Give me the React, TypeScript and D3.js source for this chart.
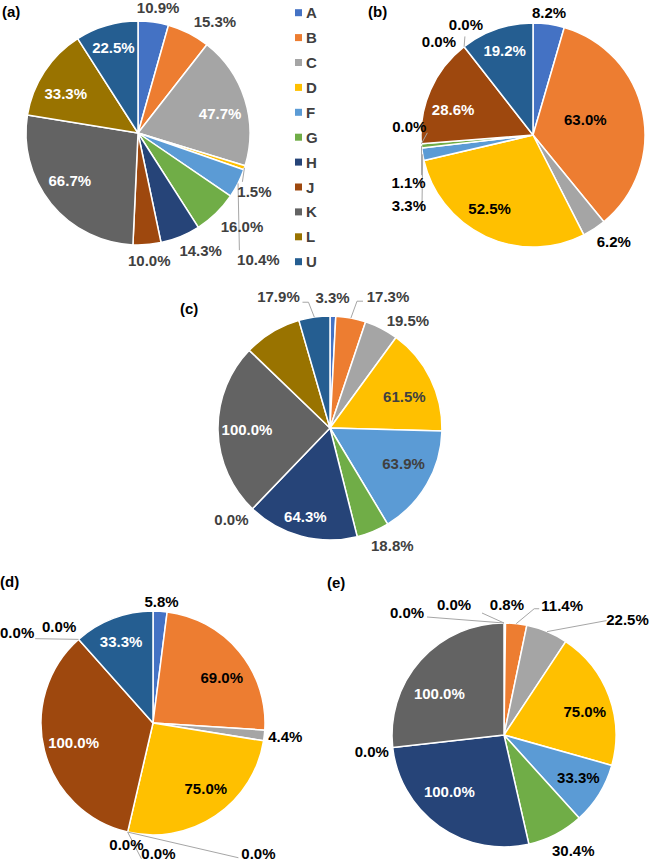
import React from "react";
import * as d3 from "d3";

// ---------- data ----------
const categories = ["A", "B", "C", "D", "F", "G", "H", "J", "K", "L", "U"];
const valuesA = [10.9, 15.3, 47.7, 1.5, 10.4, 16.0, 14.3, 10.0, 66.7, 33.3, 22.5];
const valuesB = [8.2, 63.0, 6.2, 52.5, 3.3, 1.1, 0.0, 28.6, 0.0, 0.0, 19.2];
const valuesC = [3.3, 17.3, 19.5, 61.5, 63.9, 18.8, 64.3, 0.0, 100.0, 33.3, 17.9];
const valuesD = [5.8, 69.0, 4.4, 75.0, 0.0, 0.0, 0.0, 100.0, 0.0, 0.0, 33.3];
const valuesE = [0.8, 11.4, 22.5, 75.0, 33.3, 30.4, 100.0, 0.0, 100.0, 0.0, 0.0];
const panelTitles = ["(a)", "(b)", "(c)", "(d)", "(e)"];

// ---------- style ----------
const sliceColors = [
  "#4472C4", "#ED7D31", "#A5A5A5", "#FFC000", "#5B9BD5", "#70AD47",
  "#264478", "#9E480E", "#636363", "#997300", "#255E91",
];
const whiteInside = new Set(["C", "H", "J", "K", "L", "U"]);
const FONT = "'Liberation Sans', Arial, Helvetica, sans-serif";
const FS = 15;

type Leader = { i: number; end: [number, number]; elbow?: [number, number] };
type Panel = {
  title: string;
  values: number[];
  cx: number;
  cy: number;
  r: number;
  tx: number;
  ty: number;
  modes: string; // i = inside, o = outside, - = hidden
  nudges: [number, number][];
  leaders: Leader[];
  dark: string;
};

const panels: Panel[] = [
  {
    title: panelTitles[0], values: valuesA, cx: 138, cy: 133, r: 112, tx: 2, ty: 17,
    modes: "ooioooooiii",
    nudges: [[1, -2], [14, 0], [2, 6], [-12, 20], [-4, 70], [7, 4], [10, 2], [0, 3], [-3, -5], [-2, 7], [-1, -5]],
    leaders: [{ i: 3, end: [-12, -10] }, { i: 4, end: [-19, -9] }],
    dark: "#404040",
  },
  {
    title: panelTitles[1], values: valuesB, cx: 533, cy: 135, r: 112, tx: 368, ty: 17,
    modes: "oioioooiooi",
    nudges: [[-3, 1], [-30, 1], [7, 2], [-8, -3], [9, 49], [10, 35], [11, -18], [-3, 8], [-11, 5], [16, -12], [-1, -5]],
    leaders: [
      { i: 4, end: [13, 6] },
      { i: 5, end: [13, -7] },
      { i: 6, end: [18, 6] },
      { i: 9, end: [-1, 12] },
    ],
    dark: "#000000",
  },
  {
    title: panelTitles[2], values: valuesC, cx: 330, cy: 428, r: 112, tx: 180, ty: 314,
    modes: "oooiioioi-o",
    nudges: [[-1, -6], [32, -9], [14, 4], [-1, 6], [1, -7], [9, 2], [-3, 7], [-5, 1], [1, 0], [0, 0], [-32, -8]],
    leaders: [
      { i: 1, elbow: [-31, 5], end: [-25, 5] },
      { i: 10, elbow: [30, 6], end: [24, 6] },
    ],
    dark: "#404040",
  },
  {
    title: panelTitles[3], values: valuesD, cx: 153, cy: 723, r: 112, tx: 0, ty: 587,
    modes: "oioioooiooi",
    nudges: [[0, 3], [4, 8], [-2, 0], [6, -4], [4, 0], [36, 9], [136, 9], [2, -1], [-4, -3], [-46, 3], [-2, -3]],
    leaders: [
      { i: 5, end: [-17, 5] },
      { i: 6, end: [-20, 4] },
      { i: 9, end: [18, 6] },
    ],
    dark: "#000000",
  },
  {
    title: panelTitles[4], values: valuesE, cx: 504, cy: 735, r: 112, tx: 327, ty: 588,
    modes: "oooiioioioo",
    nudges: [[2, -6], [43, -5], [70, 0], [2, 6], [3, -2], [5, 5], [-6, -12], [2, 3], [-2, 14], [-50, -6], [-97, 2]],
    leaders: [
      { i: 1, elbow: [-28, 3], end: [-23, 3] },
      { i: 2, end: [-21, 1] },
      { i: 9, end: [28, 9] },
      { i: 10, end: [20, 5] },
    ],
    dark: "#000000",
  },
];

function textWidth(t: string): number {
  let w = 0;
  for (const ch of t) {
    if (ch === ".") w += 0.278;
    else if (ch === "%") w += 0.889;
    else w += 0.556;
  }
  return w * FS;
}

function PiePanel({ p }: { p: Panel }) {
  const pie = d3.pie<number>().sort(null).value((d) => d).startAngle(0).endAngle(2 * Math.PI);
  const arcs = pie(p.values);
  const arc = d3.arc<d3.PieArcDatum<number>>().innerRadius(0).outerRadius(p.r);
  const polar = (a: number, rho: number): [number, number] => [
    p.cx + rho * Math.sin(a),
    p.cy - rho * Math.cos(a),
  ];
  const labels = arcs.map((a, i) => {
    const mid = (a.startAngle + a.endAngle) / 2;
    const text = p.values[i].toFixed(1) + "%";
    const mode = p.modes[i];
    let x: number, y: number;
    if (mode === "i") {
      [x, y] = polar(mid, 0.75 * p.r);
    } else {
      const [bx, by] = polar(mid, p.r + 6);
      x = bx + (Math.sin(mid) * textWidth(text)) / 2;
      y = by - Math.cos(mid) * 7;
    }
    x += p.nudges[i][0];
    y += p.nudges[i][1];
    const fill =
      mode === "i" && whiteInside.has(categories[i]) ? "#FFFFFF" : p.dark;
    return { x, y, text, mode, fill, mid };
  });

  return (
    <g>
      <text x={p.tx} y={p.ty} fontFamily={FONT} fontWeight="bold" fontSize={FS} fill="#000">
        {p.title}
      </text>
      {arcs.map((a, i) =>
        p.values[i] > 0 ? (
          <path
            key={i}
            d={arc(a) || ""}
            transform={`translate(${p.cx},${p.cy})`}
            fill={sliceColors[i]}
            stroke="#FFFFFF"
            strokeWidth={1.5}
            strokeLinejoin="round"
          />
        ) : null
      )}
      {p.leaders.map((ld, k) => {
        const lb = labels[ld.i];
        const start = polar(lb.mid, p.r);
        const pts: [number, number][] = [start];
        if (ld.elbow) pts.push([lb.x + ld.elbow[0], lb.y + ld.elbow[1]]);
        pts.push([lb.x + ld.end[0], lb.y + ld.end[1]]);
        return (
          <path
            key={"ld" + k}
            d={d3.line()(pts) || ""}
            fill="none"
            stroke="#A6A6A6"
            strokeWidth={1}
          />
        );
      })}
      {labels.map((lb, i) =>
        lb.mode === "-" ? null : (
          <text
            key={"lb" + i}
            x={lb.x}
            y={lb.y}
            textAnchor="middle"
            dominantBaseline="central"
            fontFamily={FONT}
            fontWeight="bold"
            fontSize={FS}
            fill={lb.fill}
          >
            {lb.text}
          </text>
        )
      )}
    </g>
  );
}

function Legend() {
  const y = d3.scalePoint<string>().domain(categories).range([12.7, 261.7]);
  return (
    <g>
      {categories.map((c, i) => (
        <g key={c}>
          <rect x={295} y={(y(c) as number) - 3.5} width={7} height={7} fill={sliceColors[i]} />
          <text
            x={306}
            y={y(c) as number}
            dominantBaseline="central"
            fontFamily={FONT}
            fontWeight="bold"
            fontSize={FS}
            fill="#404040"
          >
            {c}
          </text>
        </g>
      ))}
    </g>
  );
}

export default function App() {
  return (
    <svg
      width={650}
      height={862}
      style={{ position: "absolute", left: 0, top: 0, background: "#fff" }}
    >
      <rect width={650} height={862} fill="#fff" />
      {panels.map((p, i) => (
        <PiePanel key={i} p={p} />
      ))}
      <Legend />
    </svg>
  );
}
